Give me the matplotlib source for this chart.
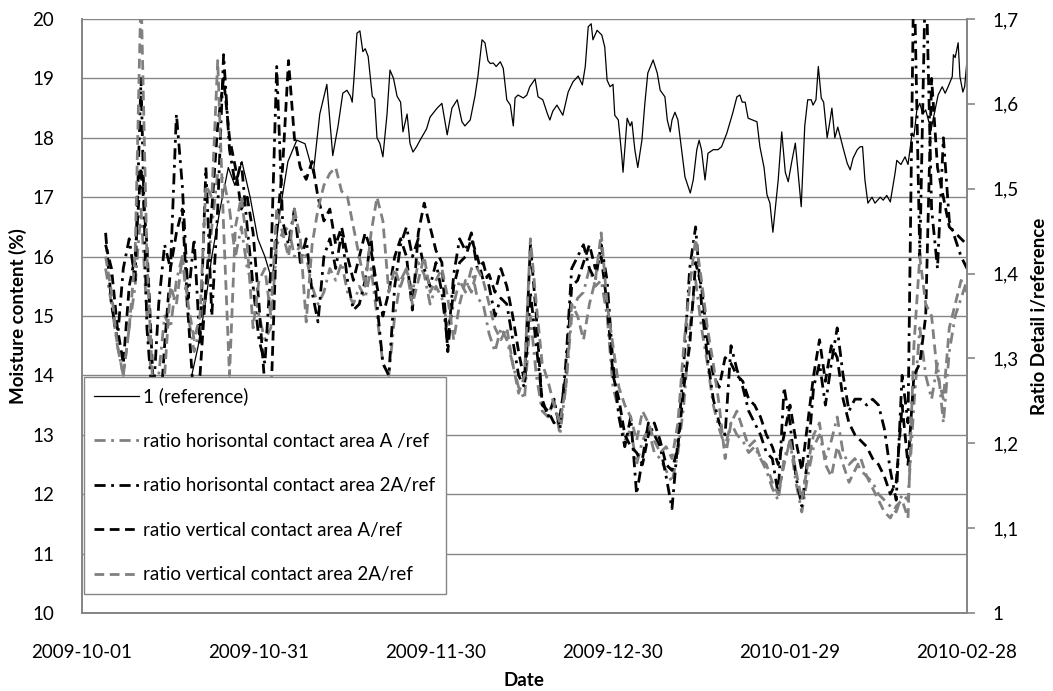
import numpy as np
import pandas as pd
import matplotlib
matplotlib.use("Agg")
from matplotlib import pyplot as plt
from matplotlib import dates as mdates
from matplotlib.ticker import FuncFormatter

plt.rcParams['font.family'] = ['Lato', 'DejaVu Sans']

start = pd.Timestamp('2009-10-01')
tick_dates = pd.date_range('2009-10-01', periods=6, freq='30D')

# reference moisture content (%), day offsets from 2009-10-01
ref_days = [17.5, 18.6, 19.7, 20.9, 22.0, 23.4, 24.8, 25.9, 27.1, 28.5, 29.8, 31.0, 32.2, 33.6, 34.9,
            36.4, 37.8, 39.2, 40.3, 41.5, 42.5, 43.4, 44.2, 44.9, 45.5, 45.8, 46.1, 46.6, 47.1, 47.6,
            48.0, 48.5, 49.2, 49.6, 50.0, 50.5, 51.0, 51.7, 52.2, 52.8, 53.4, 54.0, 54.4, 55.1, 55.6,
            56.1, 56.7, 57.3, 58.4, 59.0, 60.2, 61.0, 61.9, 62.7, 63.6, 64.4, 64.9, 65.8, 66.6, 67.1,
            67.8, 68.3, 68.8, 69.2, 69.7, 70.2, 70.9, 71.4, 72.0, 72.6, 73.1, 73.4, 73.9, 74.8, 75.4,
            75.9, 76.8, 77.3, 78.1, 78.9, 79.3, 79.8, 80.5, 81.5, 82.4, 83.2, 84.1, 84.8, 85.3, 85.8,
            86.3, 86.6, 87.3, 88.1, 88.6, 89.0, 89.5, 90.0, 90.3, 90.9, 91.5, 91.7, 92.4, 92.9, 93.2,
            93.7, 94.2, 94.9, 95.4, 95.9, 96.8, 97.5, 98.0, 98.8, 99.2, 99.7, 100.0, 100.5, 101.0, 101.7,
            102.2, 103.1, 103.6, 104.2, 104.6, 105.0, 105.6, 106.1, 107.0, 107.8, 108.4, 109.3, 110.3,
            111.0, 111.5, 111.9, 112.4, 112.9, 114.4, 114.9, 115.6, 116.1, 116.6, 117.1, 118.0, 118.6,
            119.2, 119.7, 120.3, 120.9, 121.2, 121.9, 122.5, 123.0, 123.6, 123.9, 124.4, 124.8, 125.3,
            125.7, 126.3, 126.8, 127.1, 127.6, 128.1, 129.0, 129.7, 130.2, 130.7, 131.4, 131.9, 132.3,
            132.7, 133.2, 133.9, 134.4, 135.3, 135.8, 136.4, 137.0, 137.8, 138.1, 138.8, 139.5, 140.0,
            140.7, 141.0, 141.5, 142.0, 142.5, 143.0, 143.9, 144.6, 145.1, 145.8, 146.3, 146.8, 147.5,
            147.7, 148.0, 148.5, 148.8, 149.3, 149.6, 150.0]
ref_moist = [13.0, 14.0, 14.5, 15.2, 16.0, 16.8, 17.5, 17.2, 17.6, 17.0, 16.3, 16.0, 15.6, 16.8, 17.6,
             17.96, 17.9, 17.4, 18.4, 18.9, 17.7, 18.2, 18.75, 18.8, 18.7, 18.6, 19.0, 19.76, 19.8, 19.45,
             19.5, 19.37, 18.7, 18.65, 18.0, 17.9, 17.68, 18.4, 19.14, 19.0, 18.7, 18.6, 18.1, 18.4, 17.9,
             17.76, 17.85, 17.96, 18.15, 18.35, 18.5, 18.58, 18.05, 18.5, 18.64, 18.27, 18.2, 18.3, 18.7, 19.03,
             19.65, 19.6, 19.3, 19.25, 19.26, 19.2, 19.28, 19.17, 18.64, 18.55, 18.2, 18.67, 18.72, 18.67, 18.72,
             18.86, 18.99, 18.69, 18.64, 18.4, 18.3, 18.45, 18.55, 18.38, 18.77, 18.94, 19.04, 18.89, 19.2, 19.87,
             19.92, 19.65, 19.81, 19.73, 19.53, 18.97, 18.86, 18.9, 18.38, 18.3, 17.68, 17.42, 18.33, 18.2, 18.27,
             17.8, 17.5, 17.96, 18.58, 19.09, 19.31, 19.09, 18.8, 18.69, 18.3, 18.1, 18.3, 18.43, 18.3, 17.74,
             17.34, 17.07, 17.29, 17.8, 17.96, 17.8, 17.29, 17.74, 17.8, 17.8, 17.85, 18.08, 18.42,
             18.69, 18.72, 18.6, 18.6, 18.33, 18.27, 17.85, 17.5, 17.04, 16.9, 16.41, 17.29, 18.1,
             17.42, 17.26, 17.6, 17.91, 17.6, 16.84, 18.2, 18.64, 18.64, 18.55, 18.64, 19.2, 18.67,
             18.6, 18.0, 18.3, 18.5, 18.0, 18.18, 17.83, 17.57, 17.46, 17.66, 17.8, 17.85, 17.85,
             17.29, 16.9, 17.0, 16.9, 17.0, 16.95, 17.03, 16.92, 17.4, 17.62, 17.55, 17.68, 17.55,
             18.08, 18.02, 18.47, 18.58, 18.4, 18.47, 18.13, 18.47, 18.72, 18.86, 18.75, 18.86, 19.03,
             19.4, 19.35, 19.6, 19.03, 18.77, 18.86, 19.3]

# ratio series, one value per day from day 4 to day 150
ratio_days = np.arange(4, 151)
ratio_h_a = [1.406, 1.364, 1.315, 1.280, 1.336, 1.385, 1.476, 1.350, 1.252, 1.280, 1.350, 1.336, 1.392, 1.420,
             1.350, 1.308, 1.336, 1.378, 1.455, 1.518, 1.511, 1.476, 1.420, 1.455, 1.406, 1.385, 1.350, 1.322,
             1.336, 1.434, 1.448, 1.455, 1.420, 1.434, 1.420, 1.385, 1.364, 1.378, 1.406, 1.392, 1.413, 1.378,
             1.364, 1.385, 1.371, 1.406, 1.350, 1.294, 1.280, 1.350, 1.392, 1.406, 1.378, 1.413, 1.399, 1.364,
             1.385, 1.371, 1.336, 1.364, 1.392, 1.378, 1.406, 1.371, 1.364, 1.329, 1.308, 1.336, 1.322, 1.294,
             1.266, 1.252, 1.350, 1.280, 1.238, 1.231, 1.252, 1.210, 1.266, 1.350, 1.371, 1.378, 1.406, 1.385,
             1.392, 1.350, 1.266, 1.238, 1.203, 1.217, 1.175, 1.203, 1.217, 1.189, 1.182, 1.168, 1.154, 1.189,
             1.245, 1.336, 1.392, 1.336, 1.294, 1.245, 1.217, 1.196, 1.224, 1.210, 1.203, 1.189, 1.196, 1.182,
             1.168, 1.147, 1.133, 1.182, 1.203, 1.154, 1.119, 1.161, 1.196, 1.210, 1.182, 1.203, 1.231, 1.189,
             1.175, 1.182, 1.168, 1.161, 1.154, 1.140, 1.133, 1.126, 1.119, 1.140, 1.133, 1.245, 1.336, 1.280,
             1.252, 1.294, 1.224, 1.308, 1.350, 1.371, 1.392]
ratio_h_2a = [1.448, 1.364, 1.322, 1.406, 1.441, 1.392, 1.630, 1.336, 1.245, 1.364, 1.434, 1.406, 1.588, 1.504,
              1.371, 1.441, 1.315, 1.525, 1.350, 1.476, 1.658, 1.546, 1.504, 1.532, 1.455, 1.385, 1.322, 1.294,
              1.406, 1.644, 1.462, 1.434, 1.476, 1.413, 1.441, 1.378, 1.343, 1.420, 1.441, 1.406, 1.448, 1.392,
              1.357, 1.364, 1.392, 1.441, 1.364, 1.294, 1.280, 1.385, 1.434, 1.455, 1.420, 1.441, 1.406, 1.385,
              1.413, 1.378, 1.315, 1.399, 1.441, 1.427, 1.448, 1.406, 1.413, 1.385, 1.350, 1.371, 1.364, 1.322,
              1.280, 1.266, 1.378, 1.315, 1.252, 1.231, 1.252, 1.217, 1.294, 1.406, 1.420, 1.434, 1.406, 1.392,
              1.434, 1.392, 1.294, 1.231, 1.196, 1.231, 1.140, 1.182, 1.224, 1.210, 1.196, 1.161, 1.123, 1.203,
              1.294, 1.406, 1.455, 1.364, 1.301, 1.252, 1.224, 1.210, 1.315, 1.287, 1.266, 1.238, 1.224, 1.210,
              1.189, 1.182, 1.140, 1.266, 1.224, 1.161, 1.126, 1.182, 1.266, 1.294, 1.245, 1.294, 1.336, 1.280,
              1.238, 1.252, 1.252, 1.245, 1.252, 1.245, 1.217, 1.168, 1.133, 1.280, 1.224, 1.770, 1.420, 1.770,
              1.476, 1.406, 1.560, 1.462, 1.441, 1.420, 1.406]
ratio_v_a = [1.434, 1.406, 1.336, 1.294, 1.385, 1.420, 1.525, 1.434, 1.280, 1.210, 1.315, 1.406, 1.448, 1.476,
             1.350, 1.245, 1.280, 1.385, 1.476, 1.574, 1.630, 1.560, 1.525, 1.476, 1.490, 1.448, 1.364, 1.266,
             1.245, 1.455, 1.525, 1.651, 1.560, 1.525, 1.511, 1.532, 1.490, 1.462, 1.476, 1.434, 1.455, 1.420,
             1.392, 1.420, 1.448, 1.427, 1.385, 1.350, 1.378, 1.420, 1.441, 1.420, 1.357, 1.448, 1.483, 1.455,
             1.427, 1.413, 1.308, 1.385, 1.413, 1.420, 1.441, 1.420, 1.392, 1.399, 1.378, 1.406, 1.385, 1.350,
             1.308, 1.273, 1.434, 1.350, 1.245, 1.238, 1.224, 1.231, 1.280, 1.385, 1.392, 1.413, 1.434, 1.406,
             1.420, 1.364, 1.280, 1.252, 1.210, 1.196, 1.189, 1.175, 1.210, 1.224, 1.203, 1.175, 1.168, 1.196,
             1.266, 1.315, 1.413, 1.385, 1.322, 1.280, 1.266, 1.301, 1.294, 1.280, 1.273, 1.252, 1.245, 1.231,
             1.210, 1.196, 1.175, 1.210, 1.245, 1.203, 1.168, 1.224, 1.280, 1.322, 1.273, 1.315, 1.301, 1.252,
             1.224, 1.210, 1.203, 1.196, 1.182, 1.175, 1.161, 1.140, 1.154, 1.245, 1.175, 1.280, 1.294, 1.350,
             1.630, 1.525, 1.490, 1.455, 1.448, 1.441, 1.434]
ratio_v_2a = [1.420, 1.378, 1.315, 1.280, 1.336, 1.420, 1.735, 1.420, 1.266, 1.224, 1.280, 1.385, 1.364, 1.420,
              1.364, 1.322, 1.350, 1.504, 1.490, 1.651, 1.455, 1.280, 1.455, 1.490, 1.434, 1.336, 1.392, 1.406,
              1.350, 1.476, 1.448, 1.420, 1.476, 1.441, 1.343, 1.434, 1.476, 1.504, 1.518, 1.525, 1.497, 1.490,
              1.455, 1.420, 1.385, 1.448, 1.490, 1.462, 1.378, 1.406, 1.385, 1.406, 1.364, 1.392, 1.420, 1.378,
              1.392, 1.406, 1.371, 1.322, 1.364, 1.392, 1.378, 1.406, 1.392, 1.364, 1.336, 1.322, 1.336, 1.294,
              1.259, 1.280, 1.441, 1.364, 1.294, 1.273, 1.245, 1.224, 1.266, 1.364, 1.350, 1.322, 1.364, 1.392,
              1.448, 1.364, 1.315, 1.266, 1.245, 1.231, 1.203, 1.238, 1.224, 1.203, 1.189, 1.196, 1.182, 1.224,
              1.315, 1.385, 1.441, 1.392, 1.336, 1.294, 1.245, 1.182, 1.224, 1.238, 1.217, 1.196, 1.203, 1.182,
              1.175, 1.154, 1.140, 1.175, 1.203, 1.168, 1.133, 1.175, 1.210, 1.224, 1.175, 1.161, 1.196, 1.175,
              1.154, 1.168, 1.182, 1.161, 1.147, 1.133, 1.119, 1.112, 1.126, 1.133, 1.112, 1.315, 1.420, 1.364,
              1.350, 1.280, 1.252, 1.336, 1.364, 1.392, 1.378]

labels = ['1 (reference)',
          'ratio horisontal contact area A /ref',
          'ratio horisontal contact area 2A/ref',
          'ratio vertical contact area A/ref',
          'ratio vertical contact area 2A/ref']

ref_dates = start + pd.to_timedelta(ref_days, unit='D')
ratio_dates = start + pd.to_timedelta(ratio_days, unit='D')

GRAY = '#808080'
AXIS = '#868686'
FS = 13.5

fig = plt.figure(figsize=(10.53, 6.91), dpi=100)
ax = fig.add_axes([82 / 1053, 1 - 613 / 691, 885 / 1053, 594 / 691])
ax2 = ax.twinx()

l_ref, = ax.plot(ref_dates, ref_moist, color='black', lw=0.9, solid_joinstyle='round')

dashdot = (0, (4, 2, 1, 2))
dashed = (0, (3.5, 2))
common = dict(lw=2.0, dash_capstyle='butt', dash_joinstyle='round')
l_ha, = ax2.plot(ratio_dates, ratio_h_a, color=GRAY, ls=dashdot, **common)
l_h2a, = ax2.plot(ratio_dates, ratio_h_2a, color='black', ls=dashdot, **common)
l_va, = ax2.plot(ratio_dates, ratio_v_a, color='black', ls=dashed, **common)
l_v2a, = ax2.plot(ratio_dates, ratio_v_2a, color=GRAY, ls=dashed, **common)

ax.set_xlim(tick_dates[0], tick_dates[-1])
ax.set_ylim(10, 20)
ax.set_yticks(range(10, 21))
ax2.set_ylim(1, 1.7)
ax2.set_yticks(np.arange(1.0, 1.71, 0.1))
ax2.yaxis.set_major_formatter(FuncFormatter(lambda v, _: ('%g' % round(v, 1)).replace('.', ',')))
ax.set_xticks(tick_dates)
ax.xaxis.set_major_formatter(mdates.DateFormatter('%Y-%m-%d'))

ax.grid(axis='y', color=AXIS, lw=1.0)
ax.set_axisbelow(True)
for a in (ax, ax2):
    a.spines['top'].set_visible(False)
    for s in ('left', 'right', 'bottom'):
        a.spines[s].set_color(AXIS)
        a.spines[s].set_linewidth(1.3)
ax.tick_params(axis='y', length=0, pad=20, labelsize=FS)
ax.tick_params(axis='x', length=0, pad=22, labelsize=FS)
ax2.tick_params(axis='y', length=6, width=1.2, color=AXIS, pad=12, labelsize=FS)

fig.text(18 / 1053, 1 - 316 / 691, 'Moisture content (%)', rotation=90, ha='center', va='center',
         fontsize=FS, fontweight='bold')
fig.text(1040 / 1053, 1 - 316 / 691, 'Ratio Detail i/reference', rotation=90, ha='center', va='center',
         fontsize=FS, fontweight='bold')
fig.text(524 / 1053, 1 - 680 / 691, 'Date', ha='center', va='center', fontsize=FS, fontweight='bold')

leg = fig.legend([l_ref, l_ha, l_h2a, l_va, l_v2a], labels, loc='upper left',
                 bbox_to_anchor=(84 / 1053, 1 - 377 / 691), borderaxespad=0, fontsize=FS,
                 handlelength=2.4, handletextpad=0.2, labelspacing=1.47, borderpad=0.55,
                 fancybox=False, framealpha=1, edgecolor=AXIS)
leg.get_frame().set_linewidth(1.0)

fig.savefig('out.png', dpi=100)
